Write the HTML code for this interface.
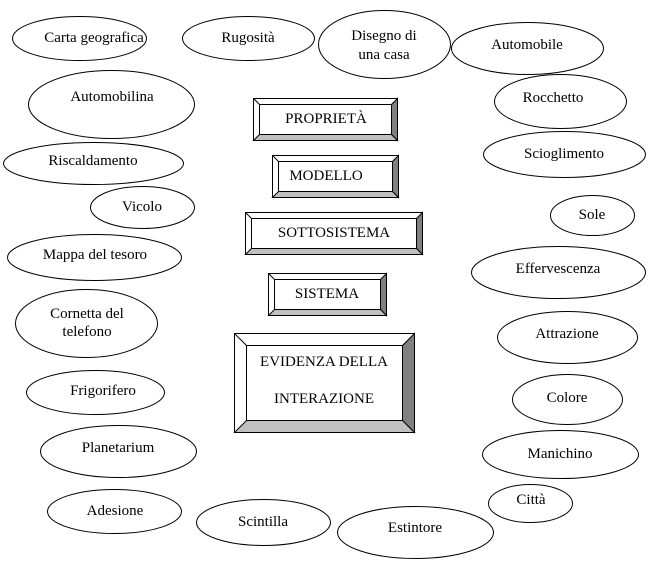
<!DOCTYPE html>
<html><head><meta charset="utf-8"><style>
html,body{margin:0;padding:0;background:#fff;}
svg{display:block;}
text{font-family:"Liberation Serif",serif;font-size:15px;fill:#000;}
</style></head><body>
<svg width="648" height="576" viewBox="0 0 648 576" xmlns="http://www.w3.org/2000/svg">
<g fill="#fff" stroke="#000" stroke-width="1">
<ellipse cx="79.5" cy="38.5" rx="67" ry="22"/>
<ellipse cx="248.5" cy="38.5" rx="66" ry="22"/>
<ellipse cx="384.5" cy="44.5" rx="66" ry="34"/>
<ellipse cx="527.5" cy="48.5" rx="76" ry="26"/>
<ellipse cx="111.5" cy="104.5" rx="83" ry="34"/>
<ellipse cx="560.5" cy="101.5" rx="66" ry="27"/>
<ellipse cx="93.5" cy="163.5" rx="90" ry="21"/>
<ellipse cx="564.5" cy="154.5" rx="81" ry="23"/>
<ellipse cx="142.5" cy="207.5" rx="52" ry="21"/>
<ellipse cx="592.5" cy="215.5" rx="42" ry="20"/>
<ellipse cx="94.5" cy="257.5" rx="87" ry="23"/>
<ellipse cx="558.5" cy="272.5" rx="87" ry="26"/>
<ellipse cx="86.5" cy="323.5" rx="71" ry="34"/>
<ellipse cx="567.5" cy="337.5" rx="70" ry="26"/>
<ellipse cx="95.5" cy="392.5" rx="69" ry="22"/>
<ellipse cx="567.5" cy="399.5" rx="55" ry="25"/>
<ellipse cx="118.5" cy="451.5" rx="78" ry="26"/>
<ellipse cx="560.5" cy="454.5" rx="78" ry="24"/>
<ellipse cx="530.5" cy="503.5" rx="42" ry="19"/>
<ellipse cx="114.5" cy="511.5" rx="67" ry="22"/>
<ellipse cx="263.5" cy="522.5" rx="67" ry="23"/>
<ellipse cx="415.5" cy="532.5" rx="78" ry="26"/>
</g>
<g text-anchor="middle">
<text x="94" y="42">Carta geografica</text>
<text x="248" y="42">Rugosità</text>
<text x="384" y="40">Disegno di</text>
<text x="384" y="59">una casa</text>
<text x="527" y="49">Automobile</text>
<text x="112" y="101">Automobilina</text>
<text x="553" y="102">Rocchetto</text>
<text x="93" y="165">Riscaldamento</text>
<text x="564" y="158">Scioglimento</text>
<text x="142" y="211">Vicolo</text>
<text x="592" y="219">Sole</text>
<text x="95" y="259">Mappa del tesoro</text>
<text x="558" y="273">Effervescenza</text>
<text x="87" y="318">Cornetta del</text>
<text x="87" y="336">telefono</text>
<text x="567" y="338">Attrazione</text>
<text x="103" y="395">Frigorifero</text>
<text x="567" y="402">Colore</text>
<text x="118" y="452">Planetarium</text>
<text x="560" y="458">Manichino</text>
<text x="531" y="504">Città</text>
<text x="115" y="515">Adesione</text>
<text x="263" y="526">Scintilla</text>
<text x="415" y="532">Estintore</text>
</g>
<g stroke="#000" stroke-width="1">
<rect x="253.5" y="98.5" width="144" height="42" fill="#fff"/>
<polygon points="397.5,98.5 391.5,104.5 391.5,134.5 397.5,140.5" fill="#808080"/>
<polygon points="253.5,140.5 259.5,134.5 391.5,134.5 397.5,140.5" fill="#c0c0c0"/>
<rect x="259.5" y="104.5" width="132" height="30" fill="#fff"/>
<line x1="253.5" y1="98.5" x2="259.5" y2="104.5"/>
<rect x="272.5" y="155.5" width="126" height="42" fill="#fff"/>
<polygon points="398.5,155.5 392.5,161.5 392.5,191.5 398.5,197.5" fill="#808080"/>
<polygon points="272.5,197.5 278.5,191.5 392.5,191.5 398.5,197.5" fill="#c0c0c0"/>
<rect x="278.5" y="161.5" width="114" height="30" fill="#fff"/>
<line x1="272.5" y1="155.5" x2="278.5" y2="161.5"/>
<rect x="245.5" y="212.5" width="177" height="42" fill="#fff"/>
<polygon points="422.5,212.5 416.5,218.5 416.5,248.5 422.5,254.5" fill="#808080"/>
<polygon points="245.5,254.5 251.5,248.5 416.5,248.5 422.5,254.5" fill="#c0c0c0"/>
<rect x="251.5" y="218.5" width="165" height="30" fill="#fff"/>
<line x1="245.5" y1="212.5" x2="251.5" y2="218.5"/>
<rect x="268.5" y="273.5" width="118" height="42" fill="#fff"/>
<polygon points="386.5,273.5 380.5,279.5 380.5,309.5 386.5,315.5" fill="#808080"/>
<polygon points="268.5,315.5 274.5,309.5 380.5,309.5 386.5,315.5" fill="#c0c0c0"/>
<rect x="274.5" y="279.5" width="106" height="30" fill="#fff"/>
<line x1="268.5" y1="273.5" x2="274.5" y2="279.5"/>
<rect x="234.5" y="333.5" width="180" height="99" fill="#fff"/>
<polygon points="414.5,333.5 402.5,345.5 402.5,420.5 414.5,432.5" fill="#808080"/>
<polygon points="234.5,432.5 246.5,420.5 402.5,420.5 414.5,432.5" fill="#c0c0c0"/>
<rect x="246.5" y="345.5" width="156" height="75" fill="#fff"/>
<line x1="234.5" y1="333.5" x2="246.5" y2="345.5"/>
</g>
<g text-anchor="middle">
<text x="326" y="123">PROPRIETÀ</text>
<text x="326" y="180">MODELLO</text>
<text x="334" y="237">SOTTOSISTEMA</text>
<text x="327" y="298">SISTEMA</text>
<text x="324" y="366">EVIDENZA DELLA</text>
<text x="324" y="403">INTERAZIONE</text>
</g>
</svg>
</body></html>
